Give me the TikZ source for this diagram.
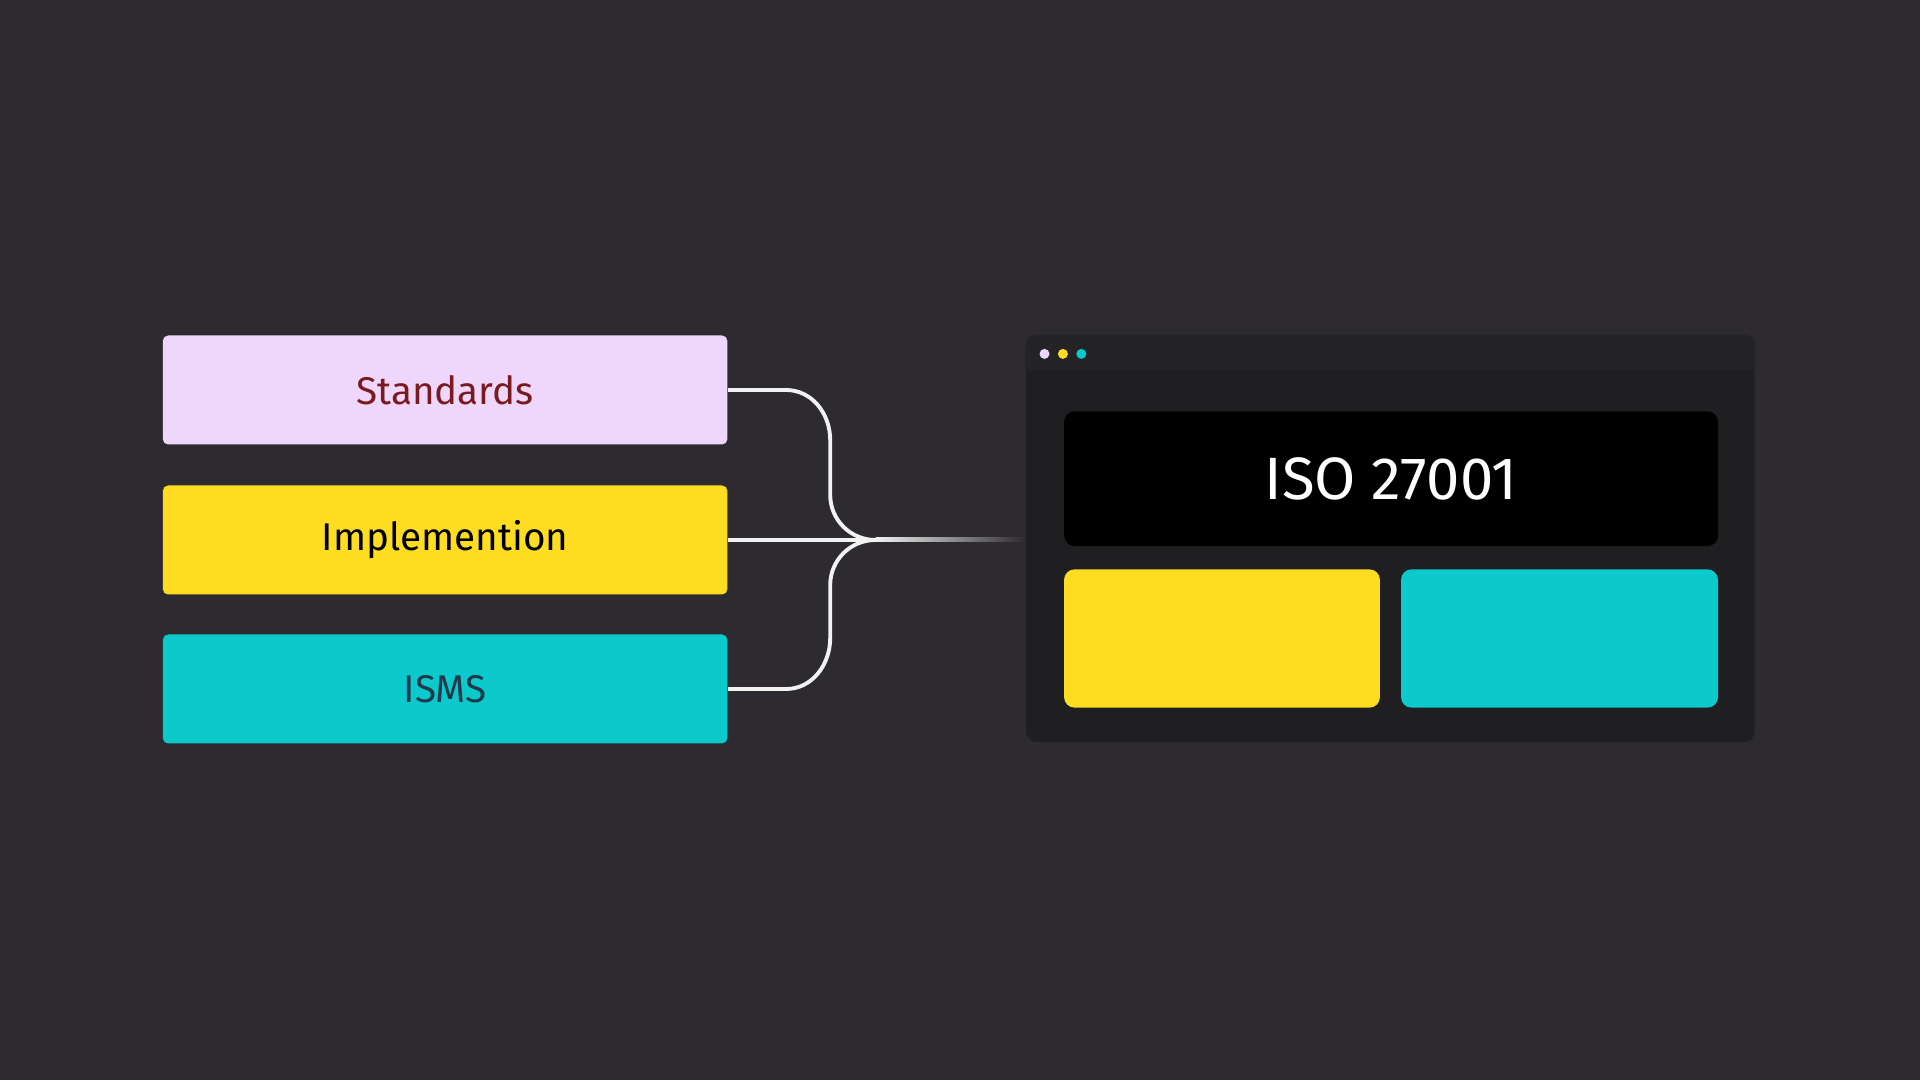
\documentclass[tikz,border=0pt]{standalone}
\usepackage{fontspec}
\setmainfont{Fira Sans}
\usetikzlibrary{positioning, calc}
\definecolor{bgdark}{RGB}{45, 43, 47}
\definecolor{windowbg}{RGB}{31, 30, 33}
\definecolor{titlebar}{RGB}{36, 35, 38}
\definecolor{lavender25}{RGB}{239, 214, 251}
\definecolor{yellow25}{RGB}{253, 220, 34}
\definecolor{cyan25}{RGB}{12, 201, 204}
\definecolor{darkred}{RGB}{122, 26, 30}
\definecolor{darkteal}{RGB}{30, 58, 74}
\tikzset{
  topic/.style={rectangle, rounded corners=1.5pt, minimum width=5.645cm, minimum height=1.09cm, font=\fontsize{11}{13}\selectfont, inner sep=0pt},
  tile/.style={rectangle, rounded corners=3pt, inner sep=0pt},
  wire/.style={draw=white!90!gray, line width=1.1pt}
}
\begin{document}
\begin{tikzpicture}
  \useasboundingbox (0,0) rectangle (19.2,10.8);
  \fill[bgdark] (0,0) rectangle (19.2,10.8);

  % Topics
  \node [topic, fill=lavender25, text=darkred] (standards) at (4.451,6.90) {Standards};
  \node [topic, fill=yellow25, text=black] (implemention) at (4.451,5.40) {Implemention};
  \node [topic, fill=cyan25, text=darkteal] (isms) at (4.451,3.91) {ISMS};

  % Window
  \node [tile, fill=windowbg, minimum width=7.286cm, minimum height=4.065cm] (window) at (13.904,5.413) {};
  \fill[titlebar, rounded corners=3pt] (window.north west) rectangle ($(window.north east)+(0,-0.355)$);
  \fill[titlebar] ($(window.north west)+(0,-0.2)$) rectangle ($(window.north east)+(0,-0.355)$);
  \node [circle, fill=lavender25, minimum size=0.1cm, inner sep=0pt] (dotone) at (10.445,7.261) {};
  \node [circle, fill=yellow25, minimum size=0.1cm, inner sep=0pt, right=0.07cm of dotone] (dottwo) {};
  \node [circle, fill=cyan25, minimum size=0.1cm, inner sep=0pt, right=0.07cm of dottwo] (dotthree) {};
  \node [tile, fill=black, text=white, minimum width=6.539cm, minimum height=1.347cm, font=\fontsize{17}{20}\selectfont] (iso) at (13.911,6.013) {ISO 27001};
  \node [tile, fill=yellow25, minimum width=3.159cm, minimum height=1.383cm] (leftpanel) at (12.220,4.415) {};
  \node [tile, fill=cyan25, minimum width=3.17cm, minimum height=1.383cm] (rightpanel) at (15.595,4.415) {};

  % Connectors
  \coordinate (join) at (8.755,5.40);
  \coordinate (entry) at (window.west |- join);
  \draw[wire] (standards.east) -- ++(0.58,0) to[out=0,in=90] (8.302,6.40) -- (8.302,5.85) to[out=-90,in=180] (join);
  \draw[wire] (isms.east) -- ++(0.58,0) to[out=0,in=-90] (8.302,4.42) -- (8.302,4.95) to[out=90,in=180] (join);
  \draw[wire] (implemention.east) -- (join);
  \shade[left color=white!90!gray, right color=bgdark] ($(join)+(0,-0.02)$) rectangle ($(entry)+(0,0.02)$);
\end{tikzpicture}
\end{document}
